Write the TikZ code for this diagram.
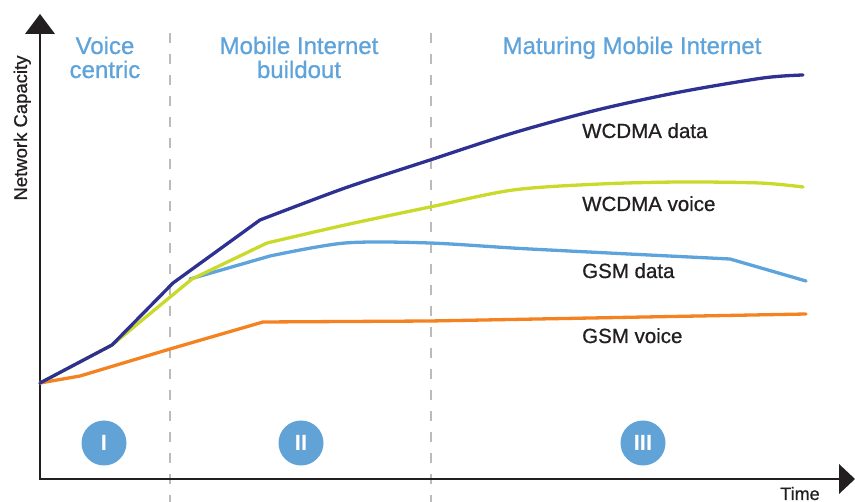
\documentclass[tikz,border=0pt]{standalone}
\usepackage{fontspec}
\setmainfont{Liberation Sans}
\newfontfamily\medfont[FakeBold=0.8]{Liberation Sans}
\definecolor{navyc}{HTML}{2E3192}
\definecolor{greenc}{HTML}{C9DA2A}
\definecolor{bluec}{HTML}{5EA4DC}
\definecolor{orangec}{HTML}{F58220}
\definecolor{titlec}{HTML}{5FA3DB}
\definecolor{circc}{HTML}{62A3D7}
\definecolor{axisc}{HTML}{231F20}
\definecolor{dashc}{HTML}{BBBBBB}
\begin{document}
\begin{tikzpicture}[x=1pt,y=-1pt,
  curve/.style={line width=3.3pt,line join=round,line cap=round},
  titletext/.style={text=titlec,font=\medfont\fontsize{24}{24}\selectfont,anchor=base,inner sep=0pt},
  labeltext/.style={text=axisc,font=\medfont\fontsize{20.5}{20.5}\selectfont,anchor=base west,inner sep=0pt},
  phase/.style={circle,fill=circc,minimum size=45pt,inner sep=0pt,text=white,font=\bfseries\fontsize{22}{22}\selectfont},
  divider/.style={dashc,line width=2pt,dash pattern=on 10pt off 11pt},
  axisline/.style={axisc,line width=2pt}]
\useasboundingbox (0,0) rectangle (855,502);
% dividers
\draw[divider] (170,33) -- (170,502);
\draw[divider] (431,33) -- (431,502);
% axes
\coordinate (o) at (40,479);
\coordinate (ytop) at (40,33);
\coordinate (xend) at (840,479);
\draw[axisline] (ytop) -- (o) -- (xend);
\fill[axisc] (40,14) -- (55,34) -- (25,34) -- cycle;
\fill[axisc] (855,479) -- (839,464) -- (839,494) -- cycle;
% curves
\draw[curve,orangec] (40,383) -- (80,376) -- (170,349) -- (263,322) -- (430,321) -- (806,314);
\draw[curve,bluec] (190,279) -- (270,256) plot[smooth,tension=0.5] coordinates {(270,256) (345,243) (430,243) (530,249) (730,259)} -- (806,281);
\draw[curve,greenc] (40,383) -- (112,345) -- (192,279) -- (267,243) plot[smooth,tension=0.5] coordinates {(267,243) (345,225) (430,207) (513,190) (600,184) (680,182) (760,183) (803,187)};
\draw[curve,navyc] (40,383) -- (112,345) -- (173,283) -- (260,220) plot[smooth,tension=0.5] coordinates {(260,220) (345,188) (430,160) (513,133) (597,110) (680,92) (763,78) (803,75)};
% titles
\node[titletext] (t1a) at (105,54) {Voice};
\node[titletext] (t1b) at (105,78) {centric};
\node[titletext] (t2a) at (299,54) {Mobile Internet};
\node[titletext] (t2b) at (299,78) {buildout};
\node[titletext] (t3) at (632,54) {Maturing Mobile Internet};
% labels
\node[labeltext] (l1) at (582,138) {WCDMA data};
\node[labeltext] (l2) at (582,211) {WCDMA voice};
\node[labeltext] (l3) at (582,278) {GSM data};
\node[labeltext] (l4) at (582,343) {GSM voice};
% axis labels
\node[rotate=90,anchor=base,inner sep=0pt,text=axisc,font=\medfont\fontsize{18.5}{18.5}\selectfont] (yl) at (27,128) {Network Capacity};
\node[anchor=base,inner sep=0pt,text=axisc,font=\medfont\fontsize{18}{18}\selectfont] (xl) at (800,500) {Time};
% phases
\node[phase] (p1) at (104,443) {I};
\node[phase] (p2) at (301,443) {II};
\node[phase] (p3) at (643,443) {III};
\end{tikzpicture}
\end{document}
